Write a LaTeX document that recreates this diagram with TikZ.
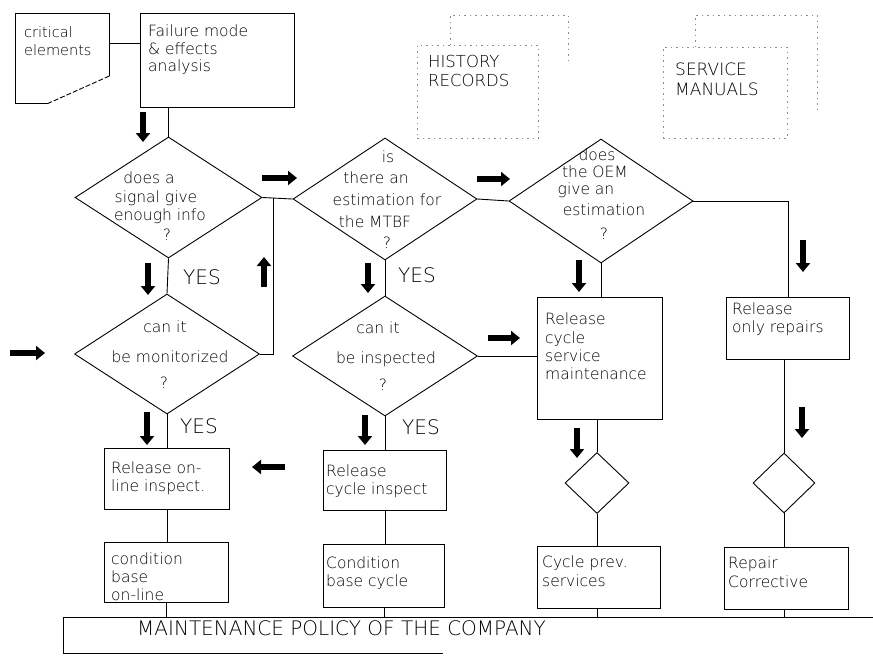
\documentclass[tikz,border=0pt]{standalone}
\usepackage{fontspec}
\setmainfont{DejaVu Sans}[UprightFont=* ExtraLight]
\usetikzlibrary{shapes.geometric,arrows.meta,calc}
\tikzset{
  ln/.style={line width=0.9pt},
  boxn/.style={draw, line width=0.9pt, rectangle, inner sep=0pt, anchor=north west},
  dia/.style={draw, line width=0.9pt, diamond, inner sep=0pt},
  txt/.style={inner sep=0pt, align=left, anchor=north west, font=\fontsize{15.5}{18}\selectfont},
  dtxt/.style={inner sep=0pt, anchor=base, font=\fontsize{15.5}{18}\selectfont},
  yes/.style={inner sep=0pt, anchor=base west, font=\fontsize{20}{24}\selectfont},
  bigarrow/.style={line width=5.5pt, -{Triangle[length=9pt,width=14pt]}},
  ghost/.style={draw=black!45, line width=0.6pt, dash pattern=on 1.5pt off 4pt},
}
\begin{document}
\begin{tikzpicture}[x=1pt,y=-1pt]
\useasboundingbox (0,0) rectangle (873,656);

% ---- top sources ----
\node[inner sep=0pt, minimum width=94pt, minimum height=90pt, anchor=north west] (crit) at (15,13) {};
\draw[ln] (crit.north west) -- (crit.north east) -- ([yshift=-63pt]crit.north east);
\draw[ln, dash pattern=on 5pt off 2pt] ([yshift=-63pt]crit.north east) -- ([xshift=33pt]crit.south west);
\draw[ln] ([xshift=33pt]crit.south west) -- (crit.south west) -- (crit.north west);
\node[txt, font=\fontsize{14.5}{18}\selectfont] (critt) at (24,26) {critical\\elements};

\node[boxn, minimum width=154pt, minimum height=94pt] (fm) at (140,13) {};
\node[txt, font=\fontsize{15.5}{17.5}\selectfont] (fmt) at (148,25) {Failure mode\\\& effects\\analysis};
\draw[ln] ([yshift=-30pt]crit.north east) -- ([yshift=-30pt]fm.north west);

% history records (stacked sheets)
\node[ghost, rectangle, inner sep=0pt, minimum width=121pt, minimum height=93pt, anchor=north west] (hist) at (417,45) {};
\draw[ghost] ([xshift=33pt]hist.north west) -- ++(0,-30) -- ++(118,0) -- ++(0,45);
\node[txt, font=\fontsize{16.5}{19}\selectfont] (histt) at (428,55) {HISTORY\\RECORDS};

% service manuals (stacked sheets)
\node[ghost, rectangle, inner sep=0pt, minimum width=124pt, minimum height=91pt, anchor=north west] (serv) at (663,47) {};
\draw[ghost] ([xshift=32pt]serv.north west) -- ++(0,-32) -- ++(122,0) -- ++(0,95);
\node[txt, font=\fontsize{17}{20}\selectfont] (servt) at (675,63) {SERVICE\\MANUALS};

% ---- decision diamonds ----
\node[dia, minimum width=187pt, minimum height=121pt] (d1) at (168.5,197.5) {};
\node[dia, minimum width=185pt, minimum height=120pt] (d2) at (167,354) {};
\node[dia, minimum width=184pt, minimum height=122pt] (d3) at (385,199) {};
\node[dia, minimum width=185pt, minimum height=120pt] (d4) at (385,356) {};
\node[dia, minimum width=184pt, minimum height=124pt] (d5) at (601,201) {};
\node[dia, minimum width=64pt, minimum height=61pt] (sd1) at (597,483) {};
\node[dia, minimum width=62pt, minimum height=60pt] (sd2) at (784,483) {};

% diamond texts
\node[dtxt] (d1a) at (149,183) {does a};
\node[dtxt] (d1b) at (156,202) {signal give};
\node[dtxt] (d1c) at (160,220) {enough info};
\node[dtxt] (d1q) at (167,240) {?};

\node[dtxt] (d2a) at (165,332) {can it};
\node[dtxt] (d2b) at (170,362) {be monitorized};
\node[dtxt] (d2q) at (164,388) {?};

\node[dtxt] (d3a) at (388,162) {is};
\node[dtxt] (d3b) at (376,183) {there an};
\node[dtxt] (d3c) at (387,205) {estimation for};
\node[dtxt] (d3d) at (375,227) {the MTBF};
\node[dtxt] (d3q) at (387,248) {?};

\node[dtxt] (d4a) at (378,333) {can it};
\node[dtxt] (d4b) at (386,363) {be inspected};
\node[dtxt] (d4q) at (383,390) {?};

\node[dtxt] (d5a) at (597,160) {does};
\node[dtxt] (d5b) at (595,177) {the OEM};
\node[dtxt] (d5c) at (586,194) {give an};
\node[dtxt] (d5d) at (604,215) {estimation};
\node[dtxt] (d5q) at (604,239) {?};

\node[yes] (y1) at (183,284) {YES};
\node[yes] (y2) at (398,282) {YES};
\node[yes] (y3) at (180,433) {YES};
\node[yes] (y4) at (402,434) {YES};

% ---- action boxes ----
\node[boxn, minimum width=125pt, minimum height=61pt] (roi) at (104,448) {};
\node[txt] (roit) at (111,462) {Release on-\\line inspect.};
\node[boxn, minimum width=124pt, minimum height=60pt] (cbo) at (104,542) {};
\node[txt] (cbot) at (111,553) {condition\\base\\on-line};

\node[boxn, minimum width=123pt, minimum height=60pt] (rci) at (323,450) {};
\node[txt] (rcit) at (326,465) {Release\\cycle inspect};
\node[boxn, minimum width=121pt, minimum height=63pt] (cbc) at (323,544) {};
\node[txt] (cbct) at (326,557) {Condition\\base cycle};

\node[boxn, minimum width=125pt, minimum height=122pt] (rcsm) at (537,297) {};
\node[txt, font=\fontsize{15.5}{18.3}\selectfont] (rcsmt) at (545,313) {Release\\cycle\\service\\maintenance};
\node[boxn, minimum width=123pt, minimum height=62pt] (cps) at (537,546) {};
\node[txt, font=\fontsize{15.5}{19}\selectfont] (cpst) at (542,556) {Cycle prev.\\services};

\node[boxn, minimum width=123pt, minimum height=62pt] (ror) at (726,297) {};
\node[txt] (rort) at (732,303) {Release\\only repairs};
\node[boxn, minimum width=124pt, minimum height=62pt] (rc) at (724,547) {};
\node[txt, font=\fontsize{15.5}{19}\selectfont] (rct) at (728,557) {Repair\\Corrective};

% policy bar
\node[inner sep=0pt, minimum width=810pt, minimum height=36pt, anchor=north west] (pol) at (63,617) {};
\draw[ln] (pol.north east) -- (pol.north west) -- (pol.south west) -- ([xshift=380pt]pol.south west);
\node[inner sep=0pt, anchor=base west, font=\fontsize{20}{24}\selectfont] (polt) at (137,635) {MAINTENANCE POLICY OF THE COMPANY};

% ---- connectors ----
\coordinate (j1) at (273,198);
\draw[ln] (d1.north |- fm.south) -- (d1.north);
\draw[ln] (d1.south) -- (d2.north);
\draw[ln] (d2.east) -| (j1);
\draw[ln] (d1.east) -- (d3.west);
\draw[ln] (d3.east) -- (d5.west);
\draw[ln] (d5.east) -| (ror.north);
\draw[ln] (d5.south) -- (d5.south |- rcsm.north);
\draw[ln] (d3.south) -- (d4.north);
\draw[ln] (d4.east) -- (rcsm.west |- d4.east);
\draw[ln] (d4.south) -- (d4.south |- rci.north);
\draw[ln] (rci.south) -- (rci.south |- cbc.north);
\draw[ln] (cbc.south) -- (cbc.south |- pol.north);
\draw[ln] (d2.south) -- (d2.south |- roi.north);
\draw[ln] (roi.south) -- (roi.south |- cbo.north);
\draw[ln] (cbo.south) -- (cbo.south |- pol.north);
\draw[ln] (sd1.north |- rcsm.south) -- (sd1.north);
\draw[ln] (sd1.south) -- (sd1.south |- cps.north);
\draw[ln] (sd1.south |- cps.south) -- (sd1.south |- pol.north);
\draw[ln] (sd2.north |- ror.south) -- (sd2.north);
\draw[ln] (sd2.south) -- (sd2.south |- rc.north);
\draw[ln] (sd2.south |- rc.south) -- (sd2.south |- pol.north);

% ---- bold flow arrows ----
\coordinate (a1s) at (143,112);  \coordinate (a1e) at (143,142);
\coordinate (a2s) at (148,263);  \coordinate (a2e) at (148,295);
\coordinate (a3s) at (264,287);  \coordinate (a3e) at (264,257);
\coordinate (a4s) at (262,178);  \coordinate (a4e) at (297,178);
\coordinate (a5s) at (10,353);   \coordinate (a5e) at (45,353);
\coordinate (a6s) at (477,179);  \coordinate (a6e) at (510,179);
\coordinate (a7s) at (368,263);  \coordinate (a7e) at (368,293);
\coordinate (a8s) at (488,338);  \coordinate (a8e) at (520,338);
\coordinate (a9s) at (579,260);  \coordinate (a9e) at (579,292);
\coordinate (a10s) at (803,240); \coordinate (a10e) at (803,272);
\coordinate (a11s) at (802,407); \coordinate (a11e) at (802,438);
\coordinate (a12s) at (577,428); \coordinate (a12e) at (577,458);
\coordinate (a13s) at (365,415); \coordinate (a13e) at (365,445);
\coordinate (a14s) at (147,412); \coordinate (a14e) at (147,445);
\coordinate (a15s) at (285,467); \coordinate (a15e) at (252,467);
\foreach \i in {1,...,15} {\draw[bigarrow] (a\i s) -- (a\i e);}
\end{tikzpicture}
\end{document}
